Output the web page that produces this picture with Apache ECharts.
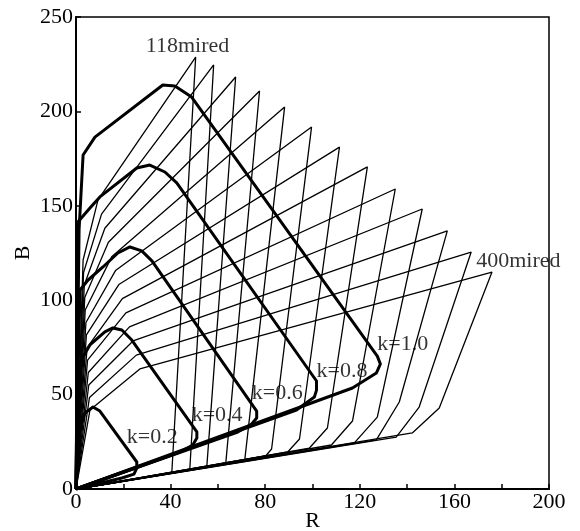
<!DOCTYPE html>
<html>
<head>
<meta charset="utf-8">
<script src="https://cdn.jsdelivr.net/npm/echarts@6/dist/echarts.min.js"></script>
<style>
  html, body { margin: 0; padding: 0; background: #fff; }
  #chart { width: 580px; height: 531px; }
</style>
</head>
<body>
<div id="chart"></div>
<script>
  // constant-mired lines, 118mired (first) to 400mired (last): [R, B] points
  var miredCurves = [
    [[0, 0], [3.0, 121.3], [9.3, 153.1], [50.6, 228.8], [40.5, 8.5], [0, 0]],
    [[0, 0], [3.2, 114.7], [10.8, 145.6], [58.2, 224.6], [48.1, 10.1], [0, 0]],
    [[0, 0], [3.5, 108.1], [12.2, 138.1], [67.5, 218.2], [55.3, 11.7], [0, 0]],
    [[0, 0], [3.7, 101.4], [13.7, 130.7], [77.6, 210.8], [63.3, 13.2], [0, 0]],
    [[0, 0], [3.9, 94.8], [15.2, 123.2], [88.2, 202.3], [71.3, 14.8], [0, 0]],
    [[0, 0], [4.2, 88.2], [16.7, 115.7], [99.6, 191.7], [82.7, 21.2], [80.2, 17.5], [0, 0]],
    [[0, 0], [4.4, 81.6], [18.1, 108.3], [111.4, 181.1], [94.5, 26.5], [89.5, 19.6], [0, 0]],
    [[0, 0], [4.7, 74.9], [19.6, 100.8], [123.2, 170.6], [106.3, 32.3], [98.7, 21.7], [0, 0]],
    [[0, 0], [4.9, 68.3], [21.1, 93.3], [135.0, 158.9], [116.9, 36.0], [108.0, 23.3], [0, 0]],
    [[0, 0], [5.2, 61.7], [22.6, 85.9], [146.4, 148.3], [127.4, 38.1], [117.7, 24.4], [0, 0]],
    [[0, 0], [5.4, 55.1], [24.1, 78.4], [157.0, 136.7], [136.7, 46.1], [127.0, 26.0], [0, 0]],
    [[0, 0], [5.7, 48.5], [25.5, 70.9], [167.1, 125.5], [145.1, 43.4], [135.4, 27.5], [0, 0]],
    [[0, 0], [5.9, 41.8], [27.0, 63.6], [175.9, 114.9], [153.6, 42.9], [142.2, 29.7], [0, 0]]
  ];

  // constant-k boundaries
  var k10 = [[0, 0], [0.4, 47.1], [1.3, 137.2], [3.0, 176.9], [8.0, 186.4], [36.7, 214.0], [41.8, 213.4],
    [48.9, 207.6], [127.4, 70.4], [128.7, 66.2], [127.0, 61.4], [116.9, 53.5], [0, 0]];
  var k08 = [[0, 0], [0.4, 57.7], [0.8, 141.4], [5.9, 148.8], [10.1, 154.7], [25.7, 170.0], [31.2, 171.6],
    [37.6, 167.9], [42.6, 162.1], [101.7, 57.2], [101.7, 52.4], [100.8, 48.7], [93.2, 41.8], [0, 0]];
  var k06 = [[0, 0], [0.4, 36.5], [1.7, 105.4], [5.1, 110.7], [11.4, 117.6], [17.7, 125.0], [22.8, 128.2],
    [27.8, 126.1], [32.1, 120.8], [76.4, 41.3], [76.4, 37.6], [74.3, 34.4], [68.4, 30.2], [0, 0]];
  var k04 = [[0, 0], [0.4, 26.0], [1.7, 67.3], [5.9, 76.3], [12.2, 83.2], [15.6, 85.3], [19.4, 84.2],
    [23.6, 78.9], [51.1, 30.2], [51.1, 27.0], [49.4, 23.3], [43.9, 19.6], [0, 0]];
  var k02 = [[0, 0], [1.3, 31.3], [3.8, 40.3], [7.2, 43.4], [10.1, 41.3], [25.7, 14.3], [25.7, 11.1],
    [24.5, 7.9], [19.4, 5.8], [0, 0]];

  // text annotations (left edge, vertical centre)
  var labelText = ['118mired', '400mired', 'k=1.0', 'k=0.8', 'k=0.6', 'k=0.4', 'k=0.2'];
  var labelR = [29.5, 169.2, 127.4, 101.7, 74.3, 48.9, 21.5];
  var labelB = [234.6, 120.8, 76.8, 62.2, 50.8, 39.2, 27.5];

  var serif = '"Liberation Serif", "Times New Roman", Times, serif';
  var chart = echarts.init(document.getElementById('chart'));

  var series = [];
  miredCurves.forEach(function (c, i) {
    series.push({
      name: 'mired' + i,
      type: 'line',
      data: c,
      showSymbol: false,
      silent: true,
      lineStyle: { color: '#000', width: 1.3 },
      z: 2
    });
  });
  [k10, k08, k06, k04, k02].forEach(function (c, i) {
    series.push({
      name: 'k' + i,
      type: 'line',
      data: c,
      showSymbol: false,
      silent: true,
      lineStyle: { color: '#000', width: 3, join: 'round' },
      z: 3
    });
  });
  series.push({
    name: 'labels',
    type: 'scatter',
    symbolSize: 0,
    silent: true,
    data: labelText.map(function (t, i) { return [labelR[i], labelB[i], t]; }),
    label: {
      show: true,
      position: 'right',
      distance: 0,
      formatter: function (p) { return p.data[2]; },
      color: '#000',
      fontFamily: serif,
      fontSize: 22
    },
    z: 5
  });

  var option = {
    animation: false,
    backgroundColor: '#fff',
    grid: {
      left: 76, right: 31, top: 17, bottom: 42,
      show: true, borderColor: '#000', borderWidth: 1.5,
      outerBoundsMode: 'none'
    },
    xAxis: {
      type: 'value',
      min: 0, max: 200, interval: 20,
      name: 'R',
      nameLocation: 'middle',
      nameGap: 21,
      nameMoveOverlap: false,
      nameTextStyle: { color: '#000', fontFamily: serif, fontSize: 22 },
      axisLine: { lineStyle: { color: '#000', width: 2 } },
      axisTick: { inside: true, length: 5, lineStyle: { color: '#000', width: 1.5 } },
      axisLabel: {
        color: '#000', fontFamily: serif, fontSize: 22, margin: 2,
        formatter: function (v) { return v % 40 === 0 ? v : ''; }
      },
      splitLine: { show: false }
    },
    yAxis: {
      type: 'value',
      min: 0, max: 250, interval: 50,
      name: 'B',
      nameLocation: 'middle',
      nameGap: 42,
      nameMoveOverlap: false,
      nameRotate: 90,
      nameTextStyle: { color: '#000', fontFamily: serif, fontSize: 22 },
      axisLine: { lineStyle: { color: '#000', width: 2 } },
      axisTick: { inside: true, length: 5, lineStyle: { color: '#000', width: 1.5 } },
      axisLabel: { color: '#000', fontFamily: serif, fontSize: 22, margin: 3 },
      splitLine: { show: false }
    },
    series: series
  };
  chart.setOption(option);
</script>
</body>
</html>
